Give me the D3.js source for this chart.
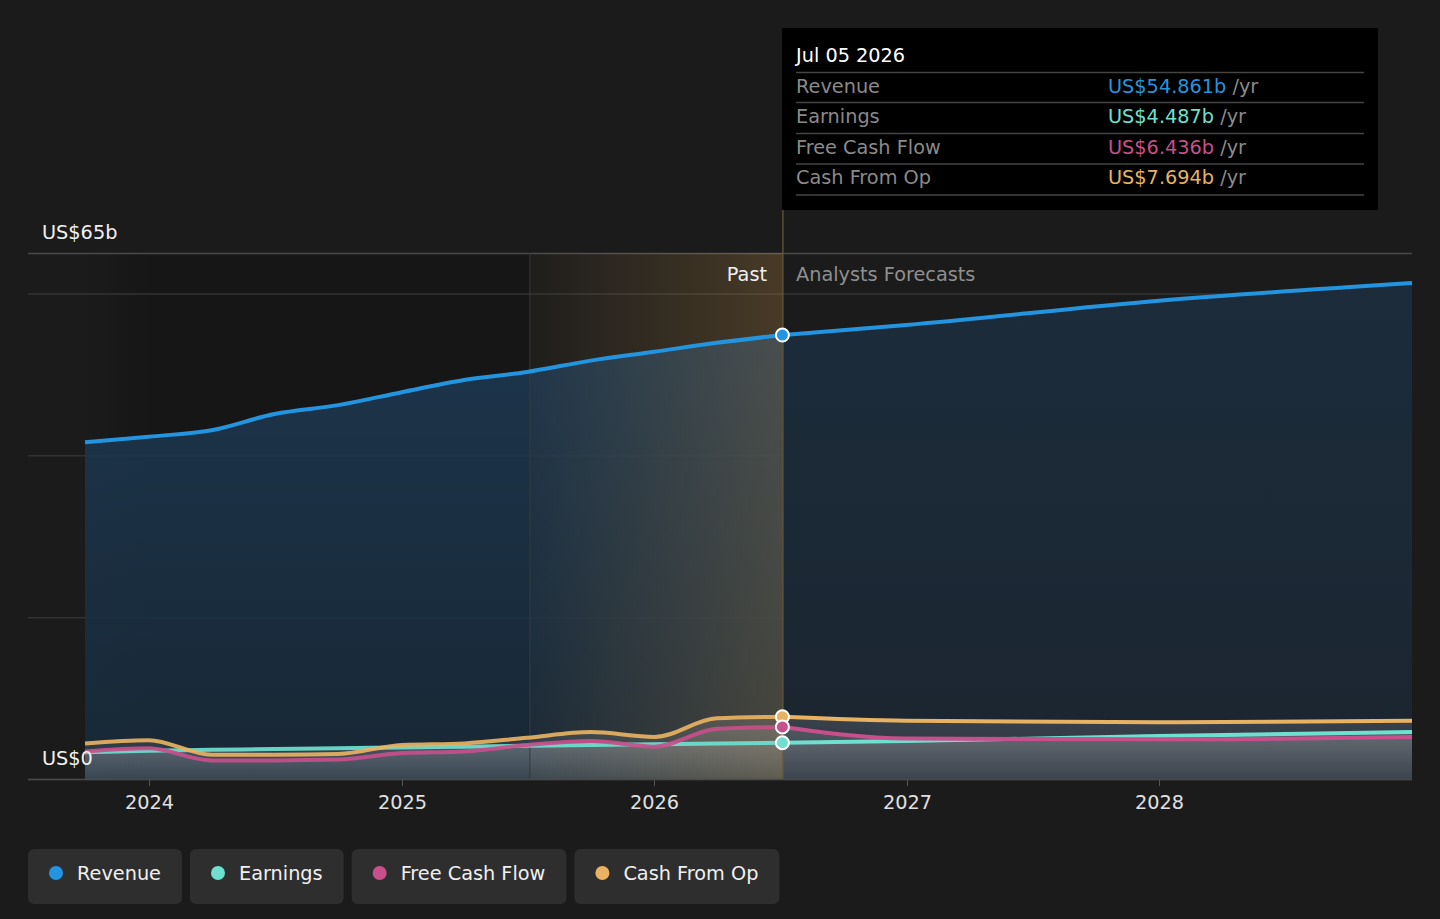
<!DOCTYPE html>
<html><head><meta charset="utf-8">
<script src="https://cdn.jsdelivr.net/npm/d3@7/dist/d3.min.js"></script>
<style>
html,body{margin:0;padding:0;background:#1b1b1b;}
svg{display:block;font-family:"DejaVu Sans",sans-serif;}
</style></head>
<body>
<svg id="chart" width="1440" height="919"></svg>
<script>
// ---- data ----
const pastDates = ["2023-10-01","2024-01-01","2024-04-01","2024-07-01","2024-10-01","2025-01-01","2025-04-01","2025-07-01","2025-10-01","2026-01-01","2026-04-01","2026-07-05"];
const forecastDates = ["2026-07-05","2026-12-31","2027-12-31","2028-12-31"];

const revenuePast  = [41.6,42.3,43.1,45.1,46.2,47.8,49.3,50.3,51.7,52.8,53.9,54.861];
const earningsPast = [3.3,3.5,3.6,3.7,3.8,3.9,4.0,4.1,4.2,4.3,4.4,4.487];
const fcfPast      = [3.4,3.8,2.3,2.3,2.4,3.2,3.4,4.2,4.7,4.0,6.2,6.436];
const cfoPast      = [4.4,4.8,3.0,3.0,3.1,4.2,4.4,5.1,5.8,5.2,7.5,7.694];

const revenueFc  = [54.861,56.1,59.1,61.3];
const earningsFc = [4.487,4.7,5.3,5.8];
const fcfFc      = [6.436,5.0,4.9,5.2];
const cfoFc      = [7.694,7.2,7.0,7.2];

const yearTicks = ["2024-01-01","2025-01-01","2026-01-01","2027-01-01","2028-01-01"];
const tickLabels = ["2024","2025","2026","2027","2028"];
const yTicks = [0,20,40,60];

const seriesNames = ["Revenue","Earnings","Free Cash Flow","Cash From Op"];
const seriesColors = ["#2394df","#6fe0cf","#c74f8b","#e8b262"];
const tooltipDate = "Jul 05 2026";
const tooltipValues = ["US$54.861b","US$4.487b","US$6.436b","US$7.694b"];
const pastStart = "2025-07-05";
const nowDate = "2026-07-05";
const domainStart = "2023-10-01", domainEnd = "2028-12-31";

// ---- setup ----
const FS = 19.3;
const parse = d3.timeParse("%Y-%m-%d");
const svg = d3.select("#chart");
const x = d3.scaleTime().domain([parse(domainStart), parse(domainEnd)]).range([85, 1412]);
const y = d3.scaleLinear().domain([0, 65]).range([779, 253]);
const L = 28, R = 1412;

const defs = svg.append("defs");
const bandGrad = defs.append("linearGradient").attr("id","band").attr("x1","0").attr("x2","1").attr("y1","0").attr("y2","0");
bandGrad.append("stop").attr("offset","0").attr("stop-color","#e6a850").attr("stop-opacity",0.02);
bandGrad.append("stop").attr("offset","1").attr("stop-color","#e6a850").attr("stop-opacity",0.22);
const revGrad = defs.append("linearGradient").attr("id","revg").attr("x1","0").attr("x2","0").attr("y1","0").attr("y2","1");
revGrad.append("stop").attr("offset","0").attr("stop-color","#1d3a55").attr("stop-opacity",0.85);
revGrad.append("stop").attr("offset","1").attr("stop-color","#182a3a").attr("stop-opacity",0.85);
const revFcGrad = defs.append("linearGradient").attr("id","revfg").attr("x1","0").attr("x2","0").attr("y1","0").attr("y2","1");
revFcGrad.append("stop").attr("offset","0").attr("stop-color","#1c2c3b");
revFcGrad.append("stop").attr("offset","1").attr("stop-color","#1b2530");
const lowGrad = defs.append("linearGradient").attr("id","lowg").attr("x1","0").attr("x2","0").attr("y1","0").attr("y2","1");
lowGrad.append("stop").attr("offset","0").attr("stop-color","#ffffff").attr("stop-opacity",0.13);
lowGrad.append("stop").attr("offset","1").attr("stop-color","#ffffff").attr("stop-opacity",0.05);
const darkGrad = defs.append("linearGradient").attr("id","darkg").attr("x1","0").attr("x2","1").attr("y1","0").attr("y2","0");
darkGrad.append("stop").attr("offset","0").attr("stop-color","#1b1b1b");
darkGrad.append("stop").attr("offset","0.15").attr("stop-color","#161616");
darkGrad.append("stop").attr("offset","1").attr("stop-color","#161616");

// dark plot background for past
const bx0 = x(parse(pastStart)), bx1 = x(parse(nowDate));
svg.append("rect").attr("x",x(parse(domainStart))).attr("y",y(65)).attr("width",bx0-x(parse(domainStart))).attr("height",y(0)-y(65)).attr("fill","url(#darkg)");

// gridlines
svg.append("g").selectAll("line").data(yTicks.concat([65])).join("line")
  .attr("x1",L).attr("x2",R).attr("y1",d=>y(d)+0.5).attr("y2",d=>y(d)+0.5)
  .attr("stroke",d=>d===65?"#4a4a4a":"#333").attr("stroke-width",1.5);

const build = (dates, vals) => dates.map((d,i)=>({date:parse(d), v:vals[i]}));
const curve = d3.curveMonotoneX;
const area = d3.area().x(d=>x(d.date)).y0(y(0)).y1(d=>y(d.v)).curve(curve);
const line = d3.line().x(d=>x(d.date)).y(d=>y(d.v)).curve(curve);

const past = [revenuePast, earningsPast, fcfPast, cfoPast].map(a=>build(pastDates,a));
const fc = [revenueFc, earningsFc, fcfFc, cfoFc].map(a=>build(forecastDates,a));

// revenue areas
svg.append("path").attr("d",area(past[0])).attr("fill","url(#revg)");
svg.append("path").attr("d",area(fc[0])).attr("fill","url(#revfg)");
// small series areas
[3,2,1].forEach(i=>{
  svg.append("path").attr("d",area(past[i])).attr("fill","url(#lowg)");
  svg.append("path").attr("d",area(fc[i])).attr("fill","url(#lowg)");
});

// past band
svg.append("rect").attr("x",bx0).attr("y",y(65)).attr("width",bx1-bx0).attr("height",y(0)-y(65)).attr("fill","url(#band)");
svg.append("line").attr("x1",bx0).attr("x2",bx0).attr("y1",y(65)).attr("y2",y(0)).attr("stroke","#3a3a32").attr("stroke-width",1);

// lines
[1,2,3,0].forEach(i=>{
  svg.append("path").attr("d",line(past[i])).attr("fill","none").attr("stroke",seriesColors[i]).attr("stroke-width",4).attr("stroke-opacity",i===0?1:0.92);
  svg.append("path").attr("d",line(fc[i])).attr("fill","none").attr("stroke",seriesColors[i]).attr("stroke-width",4);
});

// axis
svg.append("line").attr("x1",L).attr("x2",R).attr("y1",779.5).attr("y2",779.5).attr("stroke","#4a4a4a").attr("stroke-width",1.5);
const xAxis = svg.append("g");
yearTicks.forEach((t,i)=>{
  const xx = Math.round(x(parse(t)))+0.5;
  xAxis.append("line").attr("x1",xx).attr("x2",xx).attr("y1",780).attr("y2",786).attr("stroke","#555");
  xAxis.append("text").attr("x",xx).attr("y",809).attr("text-anchor","middle").attr("fill","#e0e0e0").attr("font-size",FS).text(tickLabels[i]);
});

// now line
svg.append("line").attr("x1",bx1+0.5).attr("x2",bx1+0.5).attr("y1",210).attr("y2",779).attr("stroke","#6e5c3e").attr("stroke-width",1.2);

// y labels
svg.append("text").attr("x",42).attr("y",239).attr("fill","#f0f0f0").attr("font-size",FS).text("US$65b");
svg.append("text").attr("x",42).attr("y",765).attr("fill","#f0f0f0").attr("font-size",FS).text("US$0");

// past / forecast labels
svg.append("text").attr("x",767).attr("y",281).attr("text-anchor","end").attr("fill","#f0f0f0").attr("font-size",FS).text("Past");
svg.append("text").attr("x",796).attr("y",281).attr("fill","#8f8f8f").attr("font-size",FS).text("Analysts Forecasts");

// markers
[0,3,2,1].forEach(i=>{
  const p = fc[i][0];
  svg.append("circle").attr("cx",x(p.date)).attr("cy",y(p.v)).attr("r",6.5).attr("fill",seriesColors[i]).attr("stroke","#fff").attr("stroke-width",2);
});

// tooltip
const tt = svg.append("g");
tt.append("rect").attr("x",782).attr("y",28).attr("width",596).attr("height",182).attr("fill","#000");
tt.append("text").attr("x",796).attr("y",62).attr("fill","#fff").attr("font-size",FS).text(tooltipDate);
const sepY = [72.5,102.5,133.5,164,195];
sepY.forEach(s=>tt.append("line").attr("x1",796).attr("x2",1364).attr("y1",s).attr("y2",s).attr("stroke","#444").attr("stroke-width",1.5));
const rowY = [93,123,154,184];
seriesNames.forEach((n,i)=>{
  tt.append("text").attr("x",796).attr("y",rowY[i]).attr("fill","#8a8a8a").attr("font-size",FS).text(n);
  const t = tt.append("text").attr("x",1108).attr("y",rowY[i]).attr("font-size",FS);
  t.append("tspan").attr("fill",seriesColors[i]).text(tooltipValues[i]);
  t.append("tspan").attr("fill","#8a8a8a").text(" /yr");
});

// legend
const lg = svg.append("g");
let lx = 28;
seriesNames.forEach((n,i)=>{
  const g = lg.append("g");
  const txt = g.append("text").attr("x",lx+49).attr("y",880).attr("fill","#f0f0f0").attr("font-size",FS).text(n);
  const w = txt.node().getComputedTextLength();
  const bw = 49 + w + 21;
  g.insert("rect","text").attr("x",lx).attr("y",849).attr("width",bw).attr("height",55).attr("rx",6).attr("fill","#2e2e2e");
  g.append("circle").attr("cx",lx+28).attr("cy",873).attr("r",7).attr("fill",seriesColors[i]);
  lx += bw + 8;
});
</script>
</body></html>
